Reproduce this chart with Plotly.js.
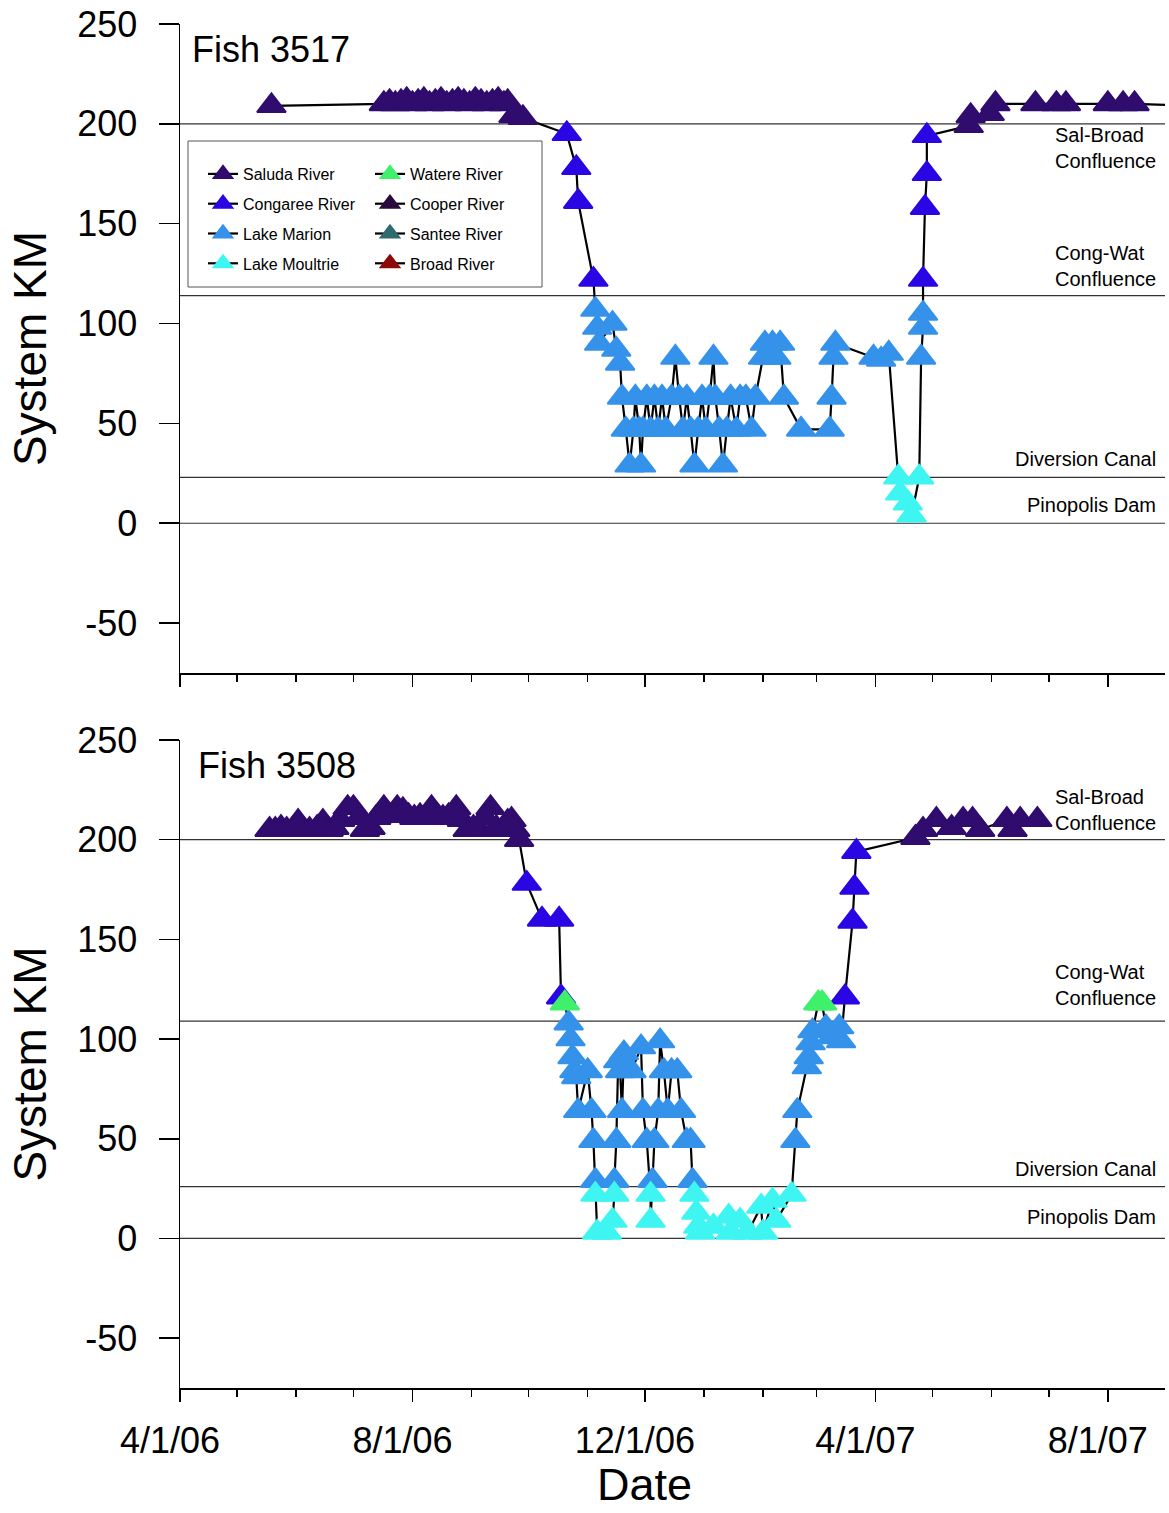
<!DOCTYPE html>
<html>
<head>
<meta charset="utf-8">
<script src="https://cdn.plot.ly/plotly-3.0.1.min.js"></script>
<style>html,body{margin:0;padding:0;background:#fff;}#chart{width:1169px;height:1513px;}</style>
</head>
<body>
<div id="chart"></div>
<script>
// ---------- categories ----------
const locationNames = ['Saluda River','Congaree River','Lake Marion','Lake Moultrie','Watere River','Cooper River','Santee River','Broad River'];
const locationCodes = ['SR','CR','LM','LMo','WR','CO','ST','BR'];

// ---------- axis ticks ----------
const yTickVals = [-50, 0, 50, 100, 150, 200, 250];
const yTickText = ['-50', '0', '50', '100', '150', '200', '250'];

// ---------- reference lines (System KM) ----------
const refLabels = ['Sal-Broad<br>Confluence','Cong-Wat<br>Confluence','Diversion Canal','Pinopolis Dam'];
const refKmA = [200, 114, 23, 0];
const refKmB = [200, 109, 26, 0];
const refLabelKmA = [188, 129, 32, 9];
const refLabelKmB = [215, 127, 35, 11];

// ---------- Fish 3517 ----------
const fishA_dates = [
 '2006-05-19','2006-07-17','2006-07-20','2006-07-23','2006-07-26','2006-07-29','2006-08-01','2006-08-04','2006-08-07','2006-08-10',
 '2006-08-13','2006-08-16','2006-08-19','2006-08-22','2006-08-25','2006-08-28','2006-08-31','2006-09-03','2006-09-06','2006-09-09',
 '2006-09-12','2006-09-15','2006-09-18','2006-09-20','2006-09-23','2006-09-28',
 '2006-10-21','2006-10-26','2006-10-27','2006-11-04',
 '2006-11-05','2006-11-06','2006-11-07','2006-11-14','2006-11-16','2006-11-18','2006-11-19','2006-11-21','2006-11-23','2006-11-25',
 '2006-11-26','2006-11-28','2006-11-29','2006-11-30','2006-12-02','2006-12-04','2006-12-06','2006-12-08','2006-12-10','2006-12-12',
 '2006-12-15','2006-12-17','2006-12-19','2006-12-21','2006-12-23','2006-12-25','2006-12-27','2006-12-29','2006-12-31','2007-01-02',
 '2007-01-04','2007-01-06','2007-01-07','2007-01-09','2007-01-11','2007-01-13','2007-01-15','2007-01-18','2007-01-20','2007-01-23',
 '2007-01-26','2007-01-28','2007-02-01','2007-02-02','2007-02-04','2007-02-06','2007-02-08','2007-02-10','2007-02-12','2007-02-21',
 '2007-03-08','2007-03-09','2007-03-10','2007-03-11','2007-03-31','2007-04-04','2007-04-08',
 '2007-04-13','2007-04-14','2007-04-18','2007-04-20','2007-04-24',
 '2007-04-25','2007-04-26','2007-04-26',
 '2007-04-26','2007-04-27','2007-04-28','2007-04-28',
 '2007-05-20','2007-05-21','2007-05-31','2007-06-03','2007-06-24','2007-07-05','2007-07-10','2007-08-01','2007-08-09','2007-08-15','2007-09-15'
];
const fishA_km = [
 209,210,211,210,211,212,210,211,212,210,
 211,212,210,211,212,211,210,212,211,210,
 211,212,210,211,204,203,
 195,178,161,122,
 107,98,90,100,87,80,63,47,29,47,
 63,47,29,47,63,47,63,47,63,47,
 63,83,63,47,63,47,29,47,63,47,
 63,83,63,47,29,47,63,47,63,63,
 47,63,83,90,83,90,83,90,63,47,
 47,63,83,90,83,82,85,
 23,15,10,4,23,
 83,98,105,
 122,158,175,194,
 199,204,205,210,210,210,210,210,210,210,209
];
const fishA_loc = [
 'SR','SR','SR','SR','SR','SR','SR','SR','SR','SR',
 'SR','SR','SR','SR','SR','SR','SR','SR','SR','SR',
 'SR','SR','SR','SR','SR','SR',
 'CR','CR','CR','CR',
 'LM','LM','LM','LM','LM','LM','LM','LM','LM','LM',
 'LM','LM','LM','LM','LM','LM','LM','LM','LM','LM',
 'LM','LM','LM','LM','LM','LM','LM','LM','LM','LM',
 'LM','LM','LM','LM','LM','LM','LM','LM','LM','LM',
 'LM','LM','LM','LM','LM','LM','LM','LM','LM','LM',
 'LM','LM','LM','LM','LM','LM','LM',
 'LMo','LMo','LMo','LMo','LMo',
 'LM','LM','LM',
 'CR','CR','CR','CR',
 'SR','SR','SR','SR','SR','SR','SR','SR','SR','SR','SR'
];

// ---------- Fish 3508 ----------
const fishB_dates = [
 '2006-05-18','2006-05-21','2006-05-24','2006-05-27','2006-05-30','2006-06-02','2006-06-05','2006-06-08','2006-06-12','2006-06-15',
 '2006-06-18','2006-06-21','2006-06-24','2006-06-28','2006-07-01','2006-07-04','2006-07-07','2006-07-10','2006-07-13','2006-07-17',
 '2006-07-20','2006-07-24','2006-07-27','2006-07-30','2006-08-02','2006-08-05','2006-08-08','2006-08-11','2006-08-14','2006-08-17',
 '2006-08-20','2006-08-24','2006-08-27','2006-08-30','2006-09-02','2006-09-05','2006-09-08','2006-09-11','2006-09-14','2006-09-17',
 '2006-09-20','2006-09-22','2006-09-24','2006-09-26',
 '2006-09-30','2006-10-08','2006-10-17','2006-10-18','2006-10-20',
 '2006-10-22','2006-10-23','2006-10-24','2006-10-25','2006-10-26','2006-10-27','2006-11-01','2006-11-03','2006-11-04','2006-11-05',
 '2006-11-05','2006-11-06','2006-11-11','2006-11-14','2006-11-15',
 '2006-11-15','2006-11-16','2006-11-17','2006-11-18','2006-11-19','2006-11-20','2006-11-24','2006-11-29','2006-11-30','2006-12-02',
 '2006-12-04','2006-12-04',
 '2006-12-05','2006-12-06','2006-12-08','2006-12-09','2006-12-11','2006-12-13','2006-12-15','2006-12-18','2006-12-20','2006-12-23',
 '2006-12-25','2006-12-26',
 '2006-12-27','2006-12-28','2006-12-29','2006-12-30','2007-01-06','2007-01-14','2007-01-15','2007-01-20','2007-01-24','2007-01-31',
 '2007-02-01','2007-02-06','2007-02-08','2007-02-16',
 '2007-02-18','2007-02-19','2007-02-24','2007-02-25','2007-02-26','2007-02-27',
 '2007-03-02','2007-03-04',
 '2007-03-06','2007-03-09','2007-03-13','2007-03-14',
 '2007-03-16','2007-03-20','2007-03-21','2007-03-22',
 '2007-04-22','2007-04-26','2007-05-03','2007-05-11','2007-05-17','2007-05-22','2007-05-26','2007-06-09','2007-06-12','2007-06-16','2007-06-25'
];
const fishB_km = [
 205,205,206,205,205,209,205,205,206,209,
 205,206,210,216,216,211,205,206,211,216,
 212,216,215,212,211,212,211,216,212,211,
 212,216,210,205,206,205,211,216,206,205,
 209,210,205,200,
 178,160,160,121,118,
 108,100,91,84,81,64,84,64,49,29,
 22,3,3,9,22,
 29,49,89,84,64,93,84,96,64,49,
 22,9,
 29,49,64,99,84,64,84,84,64,49,
 49,29,
 22,13,6,3,6,11,3,9,3,16,
 3,19,9,22,
 49,64,86,91,98,104,
 118,118,
 106,101,106,99,
 121,159,176,194,
 201,205,210,206,210,210,205,210,205,210,210
];
const fishB_loc = [
 'SR','SR','SR','SR','SR','SR','SR','SR','SR','SR',
 'SR','SR','SR','SR','SR','SR','SR','SR','SR','SR',
 'SR','SR','SR','SR','SR','SR','SR','SR','SR','SR',
 'SR','SR','SR','SR','SR','SR','SR','SR','SR','SR',
 'SR','SR','SR','SR',
 'CR','CR','CR','CR','WR',
 'LM','LM','LM','LM','LM','LM','LM','LM','LM','LM',
 'LMo','LMo','LMo','LMo','LMo',
 'LM','LM','LM','LM','LM','LM','LM','LM','LM','LM',
 'LMo','LMo',
 'LM','LM','LM','LM','LM','LM','LM','LM','LM','LM',
 'LM','LM',
 'LMo','LMo','LMo','LMo','LMo','LMo','LMo','LMo','LMo','LMo',
 'LMo','LMo','LMo','LMo',
 'LM','LM','LM','LM','LM','LM',
 'WR','WR',
 'LM','LM','LM','LM',
 'CR','CR','CR','CR',
 'SR','SR','SR','SR','SR','SR','SR','SR','SR','SR','SR'
];

// ---------- styles ----------
const colors = {SR:'#2f0c6e', CR:'#2a06e4', LM:'#3592ea', LMo:'#3ef5f2', WR:'#3ef06a', CO:'#2a0a3c', ST:'#2e6a6e', BR:'#8c0a0a'};
const FONT = 'Liberation Sans, Arial, Helvetica, sans-serif';
const xRange = ['2006-04-01','2007-08-31'];

// interleave nulls so each category's markers are not joined to each other
function sep(arr){
  if(!arr.length) return [null];   // keep an (invisible) entry so the category still appears in the legend
  const out=[]; arr.forEach((v,i)=>{ if(i) out.push(null); out.push(v); }); return out;
}

const traces = [];
function addPanel(dates, km, loc, xa, ya, legendOn){
  traces.push({x:dates, y:km, mode:'lines', line:{color:'#000', width:2.2},
    xaxis:xa, yaxis:ya, showlegend:false, hoverinfo:'skip'});
  locationCodes.forEach((c,i)=>{
    const idx = loc.map((l,j)=> l===c ? j : -1).filter(j=> j>=0);
    traces.push({
      type:'scatter',
      x: sep(idx.map(j=>dates[j])), y: sep(idx.map(j=>km[j])),
      mode:'lines+markers', connectgaps:false, name: locationNames[i],
      legend: i < 4 ? 'legend' : 'legend2', legendgroup: c, showlegend: legendOn,
      line:{color:'#000', width:2.2},
      marker:{symbol:'triangle-up', size:25, color: colors[c], line:{width:2, color: colors[c]}},
      xaxis:xa, yaxis:ya
    });
  });
}
addPanel(fishA_dates, fishA_km, fishA_loc, 'x', 'y', true);
addPanel(fishB_dates, fishB_km, fishB_loc, 'x2', 'y2', false);

const yAxisBase = {
  range:[-75,250], tickmode:'array', tickvals:yTickVals, ticktext:yTickText,
  ticks:'outside', ticklen:20, tickwidth:1.5, tickcolor:'#000',
  showline:true, linewidth:1.5, linecolor:'#000', showgrid:false, zeroline:false,
  tickfont:{family:FONT, size:36, color:'#000'}, ticklabelstandoff:14,
  title:{text:'System KM', font:{family:FONT, size:46, color:'#000'}, standoff:16}
};
const xAxisBase = {
  type:'date', range:xRange, tick0:'2006-04-01', dtick:'M4', ticks:'outside', ticklen:12, tickwidth:1.5, tickcolor:'#000',
  minor:{dtick:'M1', ticks:'outside', ticklen:7, tickwidth:1.5, tickcolor:'#000'},
  showline:true, linewidth:1.5, linecolor:'#000', showgrid:false, zeroline:false,
  tickformat:'%-m/%-d/%y', tickfont:{family:FONT, size:36, color:'#000'}
};

const H = 1513;
const legendBase = {xanchor:'left', yanchor:'top', bgcolor:'rgba(0,0,0,0)', borderwidth:0,
  font:{family:FONT, size:16, color:'#000'}, tracegroupgap:6, itemsizing:'trace', orientation:'v'};
const layout = {
  width:1169, height:H, margin:{l:180, r:4, t:0, b:0},
  paper_bgcolor:'#fff', plot_bgcolor:'#fff', showlegend:true,
  font:{family:FONT, color:'#000'},
  xaxis: Object.assign({}, xAxisBase, {anchor:'y', showticklabels:false}),
  yaxis: Object.assign({}, yAxisBase, {domain:[1-673/H, 1-24/H], anchor:'x'}),
  xaxis2: Object.assign({}, xAxisBase, {anchor:'y2', ticklabelstandoff:8, ticklabelshift:-10}),
  yaxis2: Object.assign({}, yAxisBase, {domain:[1-1388/H, 1-740/H], anchor:'x2'}),
  legend: Object.assign({}, legendBase, {x:(203-180)/985, y:1-157/H}),
  legend2: Object.assign({}, legendBase, {x:(370-180)/985, y:1-157/H}),
  shapes:[], annotations:[]
};

// legend frame
layout.shapes.push({type:'rect', xref:'paper', yref:'paper', x0:(188-180)/985, x1:(542-180)/985, y0:1-287/H, y1:1-141/H,
  line:{color:'#555', width:1}, fillcolor:'rgba(0,0,0,0)', layer:'above'});

function addRefs(kms, labelKms, ya){
  kms.forEach((k,i)=>{
    layout.shapes.push({type:'line', xref:'paper', yref:ya, x0:0, x1:1, y0:k, y1:k, line:{color:'#333', width:1.2}, layer:'below'});
    layout.annotations.push({xref:'paper', yref:ya, x:0.993, y:labelKms[i], xanchor:'right', yanchor:'middle', align:'left',
      text:refLabels[i], showarrow:false, font:{family:FONT, size:20, color:'#000'}});
  });
}
addRefs(refKmA, refLabelKmA, 'y');
addRefs(refKmB, refLabelKmB, 'y2');

layout.annotations.push({xref:'paper', yref:'y', x:0.0105, y:237, xanchor:'left', yanchor:'middle', text:'Fish 3517', showarrow:false, font:{family:FONT, size:36, color:'#000'}});
layout.annotations.push({xref:'paper', yref:'y2', x:0.0165, y:237, xanchor:'left', yanchor:'middle', text:'Fish 3508', showarrow:false, font:{family:FONT, size:36, color:'#000'}});
// x-axis title (placed as in the reference, centred under 12/1/06)
layout.annotations.push({xref:'paper', yref:'paper', x:(644-180)/985, y:1-1484/H, xanchor:'center', yanchor:'middle', text:'Date', showarrow:false, borderpad:0, font:{family:FONT, size:45, color:'#000'}});

Plotly.newPlot('chart', traces, layout, {staticPlot:true, displayModeBar:false});
</script>
</body>
</html>
